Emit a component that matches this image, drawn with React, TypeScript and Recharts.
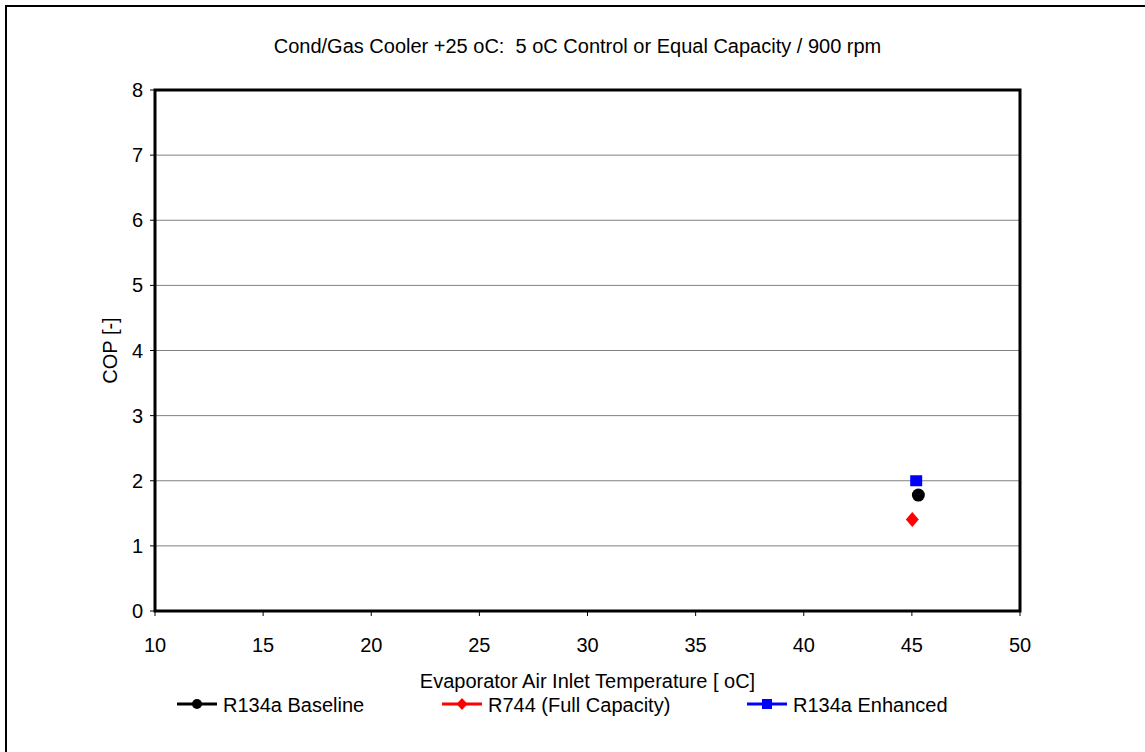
import React from 'react';
import {
  ScatterChart,
  Scatter,
  XAxis,
  YAxis,
  CartesianGrid,
  ReferenceArea,
} from 'recharts';

const TITLE = 'Cond/Gas Cooler +25 oC:  5 oC Control or Equal Capacity / 900 rpm';
const X_LABEL = 'Evaporator Air Inlet Temperature [ oC]';
const Y_LABEL = 'COP [-]';

const xTicks = [10, 15, 20, 25, 30, 35, 40, 45, 50];
const yTicks = [0, 1, 2, 3, 4, 5, 6, 7, 8];

const seriesNames = ['R134a Baseline', 'R744 (Full Capacity)', 'R134a Enhanced'];
const seriesColors = ['#000000', '#FF0000', '#0000FF'];

const baselineX = [45.3];
const baselineY = [1.78];
const r744X = [45.02];
const r744Y = [1.405];
const enhancedX = [45.2];
const enhancedY = [2.0];

const toPoints = (xs: number[], ys: number[]) => xs.map((x, i) => ({ x, y: ys[i] }));

const baselineData = toPoints(baselineX, baselineY);
const r744Data = toPoints(r744X, r744Y);
const enhancedData = toPoints(enhancedX, enhancedY);

const FONT = '"Liberation Sans", Arial, sans-serif';

const CircleShape = (p: any) => <circle cx={p.cx} cy={p.cy} r={6.5} fill={seriesColors[0]} />;
const DiamondShape = (p: any) => (
  <polygon
    points={`${p.cx},${p.cy - 7.5} ${p.cx + 6.5},${p.cy} ${p.cx},${p.cy + 7.5} ${p.cx - 6.5},${p.cy}`}
    fill={seriesColors[1]}
  />
);
const SquareShape = (p: any) => (
  <rect x={p.cx - 6} y={p.cy - 5.5} width={12} height={11} fill={seriesColors[2]} />
);

const legendItemX = [177, 442, 747];

const LegendMarker = ({ i, cx, cy }: { i: number; cx: number; cy: number }) => {
  const c = seriesColors[i];
  if (i === 0) return <circle cx={cx} cy={cy} r={5} fill={c} />;
  if (i === 1)
    return <polygon points={`${cx},${cy - 6} ${cx + 5.5},${cy} ${cx},${cy + 6} ${cx - 5.5},${cy}`} fill={c} />;
  return <rect x={cx - 5} y={cy - 5} width={10} height={10} fill={c} />;
};

export default function App() {
  return (
    <div
      style={{
        position: 'absolute',
        left: 0,
        top: 0,
        width: 1145,
        height: 752,
        overflow: 'hidden',
        background: '#fff',
        fontFamily: FONT,
      }}
    >
      <div
        style={{
          position: 'absolute',
          left: 5,
          top: 5,
          width: 1160,
          height: 770,
          border: '2px solid #000',
          boxSizing: 'border-box',
        }}
      />
      <div
        style={{
          position: 'absolute',
          left: 0,
          top: 36,
          width: 1155,
          textAlign: 'center',
          fontSize: 20,
          lineHeight: '20px',
          color: '#000',
          whiteSpace: 'pre',
        }}
      >
        {TITLE}
      </div>
      <ScatterChart
        width={1145}
        height={752}
        margin={{ top: 90, right: 125, bottom: 111, left: 95 }}
        style={{ position: 'absolute', left: 0, top: 0, fontFamily: FONT }}
      >
        <CartesianGrid vertical={false} stroke="#808080" strokeWidth={1} />
        <XAxis
          type="number"
          dataKey="x"
          domain={[10, 50]}
          ticks={xTicks}
          interval={0}
          allowDataOverflow
          height={30}
          axisLine={false}
          tickLine={{ stroke: '#000' }}
          tickSize={5}
          tickMargin={22}
          tick={{ fill: '#000', fontSize: 20, fontFamily: FONT }}
          label={{ value: X_LABEL, position: 'bottom', offset: 33, fill: '#000', fontSize: 20, fontFamily: FONT }}
        />
        <YAxis
          type="number"
          dataKey="y"
          domain={[0, 8]}
          ticks={yTicks}
          interval={0}
          allowDataOverflow
          width={60}
          axisLine={false}
          tickLine={{ stroke: '#000' }}
          tickSize={5}
          tickMargin={7}
          tick={{ fill: '#000', fontSize: 20, fontFamily: FONT }}
          label={{
            value: Y_LABEL,
            angle: -90,
            position: 'insideLeft',
            offset: 15,
            style: { textAnchor: 'middle' },
            fill: '#000',
            fontSize: 20,
            fontFamily: FONT,
          }}
        />
        <ReferenceArea
          x1={10}
          x2={50}
          y1={0}
          y2={8}
          fill="none"
          fillOpacity={0}
          stroke="#000"
          strokeWidth={3}
          strokeOpacity={1}
          ifOverflow="visible"
        />
        <Scatter name={seriesNames[0]} data={baselineData} shape={CircleShape} isAnimationActive={false} />
        <Scatter name={seriesNames[1]} data={r744Data} shape={DiamondShape} isAnimationActive={false} />
        <Scatter name={seriesNames[2]} data={enhancedData} shape={SquareShape} isAnimationActive={false} />
      </ScatterChart>
      <svg
        width={1145}
        height={40}
        style={{ position: 'absolute', left: 0, top: 690, fontFamily: FONT }}
      >
        {seriesNames.map((name, i) => {
          const x0 = legendItemX[i];
          return (
            <g key={name}>
              <line x1={x0} y1={14} x2={x0 + 40} y2={14} stroke={seriesColors[i]} strokeWidth={3} />
              <LegendMarker i={i} cx={x0 + 20} cy={14} />
              <text x={x0 + 46} y={22} fontSize={20} fill="#000">
                {name}
              </text>
            </g>
          );
        })}
      </svg>
    </div>
  );
}
